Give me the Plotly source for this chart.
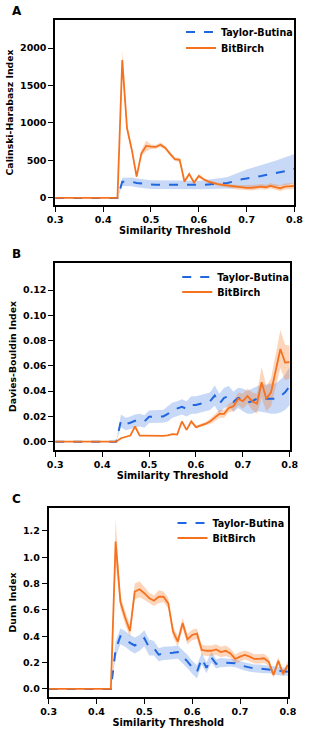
import plotly.graph_objects as go
import numpy as np

thresholds = [round(0.30 + 0.01 * i, 2) for i in range(51)]
zeros14 = [0.0] * 14  # 0.30 .. 0.43

# Panel A: Calinski-Harabasz
ch_tb = zeros14 + [215, 215, 215, 200, 190, 185, 178, 176, 175, 174, 173, 172, 172, 172, 172, 172,
                   172, 175, 180, 185, 190, 195, 200, 215, 235, 248, 260, 268, 280, 292, 305, 315,
                   325, 340, 355, 372, 390]
ch_tb_sd = [0.0] * 14 + [55, 58, 58, 58, 58, 58, 58, 58, 58, 58, 58, 58, 58, 58, 58, 58,
                         58, 60, 62, 65, 70, 75, 80, 90, 100, 110, 120, 130, 140, 148, 155, 162,
                         170, 178, 185, 190, 195]
ch_bb = zeros14 + [1840, 929, 640, 284, 596, 693, 684, 680, 710, 667, 587, 516, 507, 218, 320, 204,
                   293, 249, 218, 196, 183, 173, 164, 151, 142, 138, 133, 133, 142, 151, 142, 160,
                   145, 129, 151, 160, 160]
ch_bb_sd = [0.0] * 14 + [130, 40, 30, 25, 40, 70, 30, 25, 30, 25, 25, 25, 25, 20, 20, 20,
                         25, 20, 20, 20, 20, 20, 20, 25, 30, 30, 35, 35, 35, 35, 35, 35,
                         35, 40, 40, 40, 40]

# Panel B: Davies-Bouldin
db_tb = zeros14 + [0.0165, 0.014, 0.015, 0.0165, 0.017, 0.016, 0.0197, 0.020, 0.020, 0.020, 0.022,
                   0.025, 0.026, 0.0275, 0.026, 0.029, 0.029, 0.030, 0.031, 0.032, 0.0365, 0.030,
                   0.0347, 0.036, 0.0315, 0.0347, 0.033, 0.031, 0.032, 0.034, 0.0347, 0.034, 0.034,
                   0.034, 0.036, 0.039, 0.044]
db_tb_sd = [0.0] * 14 + [0.005, 0.005, 0.005, 0.005, 0.005, 0.005, 0.005, 0.005, 0.005, 0.005, 0.006,
                         0.006, 0.006, 0.006, 0.006, 0.007, 0.007, 0.007, 0.007, 0.007, 0.008, 0.008,
                         0.008, 0.008, 0.008, 0.008, 0.009, 0.009, 0.010, 0.010, 0.011, 0.011, 0.012,
                         0.012, 0.013, 0.014, 0.015]
db_bb = zeros14 + [0.0027, 0.004, 0.0048, 0.012, 0.0048, 0.0048, 0.0048, 0.0046, 0.0043, 0.0046, 0.005,
                   0.006, 0.0056, 0.016, 0.0093, 0.016, 0.0115, 0.0128, 0.014, 0.016, 0.0187, 0.022,
                   0.022, 0.0267, 0.028, 0.034, 0.032, 0.036, 0.032, 0.030, 0.047, 0.034, 0.039,
                   0.055, 0.0733, 0.0627, 0.063]
db_bb_sd = [0.0] * 14 + [0.0004, 0.0004, 0.0004, 0.0006, 0.0004, 0.0004, 0.0004, 0.0004, 0.0004, 0.0004, 0.0005,
                         0.0006, 0.0006, 0.0008, 0.0008, 0.001, 0.001, 0.0012, 0.0015, 0.002, 0.0025, 0.003,
                         0.003, 0.0035, 0.004, 0.005, 0.006, 0.006, 0.007, 0.008, 0.012, 0.010, 0.011,
                         0.013, 0.015, 0.014, 0.013]

# Panel C: Dunn
dn_tb = zeros14 + [0.30, 0.40, 0.38, 0.35, 0.33, 0.35, 0.385, 0.315, 0.31, 0.26, 0.27,
                   0.27, 0.275, 0.28, 0.245, 0.21, 0.165, 0.13, 0.23, 0.16, 0.24, 0.19,
                   0.20, 0.20, 0.20, 0.195, 0.18, 0.17, 0.16, 0.155, 0.155, 0.15, 0.15,
                   0.14, 0.135, 0.13, 0.13]
dn_tb_sd = [0.0] * 14 + [0.06, 0.06, 0.06, 0.06, 0.06, 0.06, 0.06, 0.06, 0.055, 0.05, 0.05,
                         0.05, 0.05, 0.05, 0.05, 0.05, 0.05, 0.05, 0.045, 0.04, 0.04, 0.035,
                         0.035, 0.03, 0.03, 0.03, 0.03, 0.03, 0.03, 0.03, 0.03, 0.03, 0.03,
                         0.03, 0.03, 0.03, 0.03]
dn_bb = zeros14 + [1.12, 0.66, 0.54, 0.44, 0.74, 0.757, 0.727, 0.69, 0.67, 0.70, 0.70,
                   0.65, 0.435, 0.36, 0.50, 0.377, 0.41, 0.42, 0.296, 0.29, 0.29, 0.30,
                   0.28, 0.29, 0.27, 0.228, 0.245, 0.258, 0.245, 0.228, 0.228, 0.233, 0.207,
                   0.106, 0.213, 0.114, 0.182]
dn_bb_sd = [0.0] * 14 + [0.17, 0.05, 0.05, 0.05, 0.06, 0.06, 0.05, 0.04, 0.04, 0.05, 0.04,
                         0.04, 0.04, 0.04, 0.04, 0.04, 0.04, 0.04, 0.04, 0.04, 0.04, 0.04,
                         0.04, 0.04, 0.035, 0.035, 0.035, 0.035, 0.035, 0.035, 0.035, 0.035, 0.03,
                         0.02, 0.03, 0.02, 0.03]

x_ticks = [0.3, 0.4, 0.5, 0.6, 0.7, 0.8]

BLUE = "#1f66e0"
ORANGE = "#f5731f"
BLUE_FILL = "rgba(31,102,224,0.25)"
ORANGE_FILL = "rgba(245,115,31,0.30)"
FONT = "DejaVu Sans"

W, H = 312, 730

panels = [
    dict(tb=ch_tb, tbs=ch_tb_sd, bb=ch_bb, bbs=ch_bb_sd, ytitle="Calinski-Harabasz Index",
         yr=[-95, 2375], yt=[0, 500, 1000, 1500, 2000], fmt="d",
         px=(50, 303), py=(20, 205), label="A", leg_x=183, leg_rows=(32, 48)),
    dict(tb=db_tb, tbs=db_tb_sd, bb=db_bb, bbs=db_bb_sd, ytitle="Davies-Bouldin Index",
         yr=[-0.0066, 0.1414], yt=[0, 0.02, 0.04, 0.06, 0.08, 0.10, 0.12], fmt=".2f",
         px=(50, 298), py=(263, 450), label="B", leg_x=179, leg_rows=(277, 292)),
    dict(tb=dn_tb, tbs=dn_tb_sd, bb=dn_bb, bbs=dn_bb_sd, ytitle="Dunn Index",
         yr=[-0.061, 1.374], yt=[0, 0.2, 0.4, 0.6, 0.8, 1.0, 1.2], fmt=".1f",
         px=(43, 296), py=(508, 697), label="C", leg_x=174, leg_rows=(523, 538)),
]

fig = go.Figure()
layout = dict(width=W, height=H, margin=dict(l=0, r=0, t=0, b=0),
              paper_bgcolor="white", plot_bgcolor="white",
              font=dict(family=FONT, color="black"), showlegend=True)
annotations = []


def legend_name(n):
    return "legend" if n == 1 else f"legend{n}"


for i, p in enumerate(panels):
    k = "" if i == 0 else str(i + 1)
    xa, ya = "x" + k, "y" + k
    leg_tb = legend_name(2 * i + 1)
    leg_bb = legend_name(2 * i + 2)
    tb = np.array(p["tb"]); tbs = np.array(p["tbs"])
    bb = np.array(p["bb"]); bbs = np.array(p["bbs"])
    # bands
    fig.add_trace(go.Scatter(x=thresholds, y=tb - tbs, mode="lines", line=dict(width=0),
                             xaxis=xa, yaxis=ya, showlegend=False, hoverinfo="skip"))
    fig.add_trace(go.Scatter(x=thresholds, y=tb + tbs, mode="lines", line=dict(width=0),
                             fill="tonexty", fillcolor=BLUE_FILL,
                             xaxis=xa, yaxis=ya, showlegend=False, hoverinfo="skip"))
    fig.add_trace(go.Scatter(x=thresholds, y=bb - bbs, mode="lines", line=dict(width=0),
                             xaxis=xa, yaxis=ya, showlegend=False, hoverinfo="skip"))
    fig.add_trace(go.Scatter(x=thresholds, y=bb + bbs, mode="lines", line=dict(width=0),
                             fill="tonexty", fillcolor=ORANGE_FILL,
                             xaxis=xa, yaxis=ya, showlegend=False, hoverinfo="skip"))
    fig.add_trace(go.Scatter(x=thresholds, y=tb, mode="lines", name="Taylor-Butina",
                             line=dict(color=BLUE, width=2, dash="dash"),
                             xaxis=xa, yaxis=ya, legend=leg_tb))
    fig.add_trace(go.Scatter(x=thresholds, y=bb, mode="lines", name="BitBirch",
                             line=dict(color=ORANGE, width=1.8),
                             xaxis=xa, yaxis=ya, legend=leg_bb))

    x0, x1 = p["px"]; y0, y1 = p["py"]
    axis_common = dict(showline=True, linecolor="black", linewidth=1.8, mirror=True,
                       ticks="outside", ticklen=5, tickwidth=1.3, tickcolor="black",
                       showgrid=False, zeroline=False,
                       tickfont=dict(family=FONT, size=9.5, color="black", weight="bold"))
    layout["xaxis" + k] = dict(axis_common, domain=[x0 / W, x1 / W], range=[0.3, 0.8],
                               tickvals=x_ticks, ticktext=[f"{v:.1f}" for v in x_ticks],
                               anchor=ya,
                               title=dict(text="Similarity Threshold", standoff=3,
                                          font=dict(family=FONT, size=9.8, color="black", weight="bold")))
    layout["yaxis" + k] = dict(axis_common, domain=[1 - y1 / H, 1 - y0 / H], range=p["yr"],
                               tickvals=p["yt"],
                               ticktext=[format(v, p["fmt"]) if p["fmt"] != "d" else str(int(v)) for v in p["yt"]],
                               anchor=xa,
                               title=dict(text=p["ytitle"], standoff=5,
                                          font=dict(family=FONT, size=9.3, color="black", weight="bold")))
    for leg, row in ((leg_tb, p["leg_rows"][0]), (leg_bb, p["leg_rows"][1])):
        layout[leg] = dict(x=p["leg_x"] / W, y=1 - row / H, xanchor="left", yanchor="middle",
                           bgcolor="rgba(0,0,0,0)", borderwidth=0,
                           font=dict(family=FONT, size=9.6, color="black", weight="bold"),
                           itemwidth=30)
    annotations.append(dict(text=f"<b>{p['label']}</b>", x=2 / W, y=1 - (y0 - 18) / H,
                            xref="paper", yref="paper", xanchor="left", yanchor="top",
                            showarrow=False, font=dict(family=FONT, size=12, color="black")))

layout["annotations"] = annotations
fig.update_layout(**layout)
fig.write_html("out.html", config={"displayModeBar": False},
               post_script="document.body.style.margin='0';")
